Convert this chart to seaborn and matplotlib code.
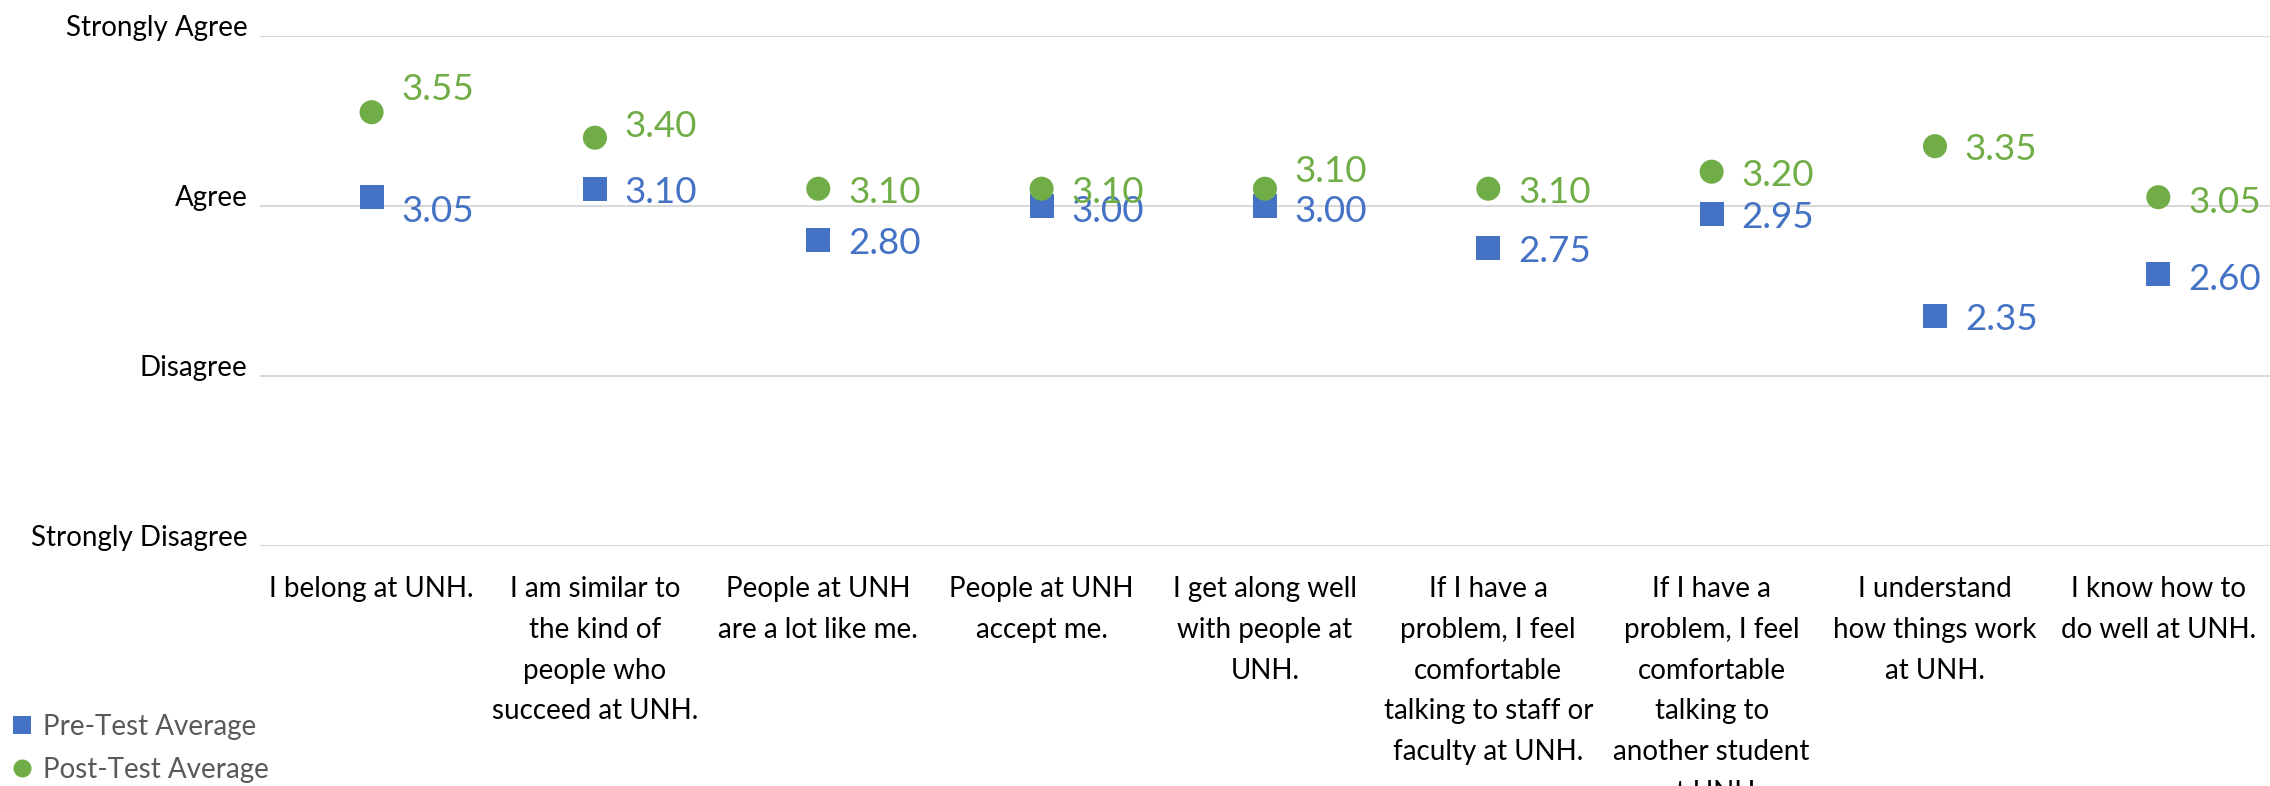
import matplotlib
matplotlib.use("Agg")
import matplotlib.pyplot as plt
import pandas as pd
import seaborn as sns

questions = [
    "I belong at UNH.",
    "I am similar to\nthe kind of\npeople who\nsucceed at UNH.",
    "People at UNH\nare a lot like me.",
    "People at UNH\naccept me.",
    "I get along well\nwith people at\nUNH.",
    "If I have a\nproblem, I feel\ncomfortable\ntalking to staff or\nfaculty at UNH.",
    "If I have a\nproblem, I feel\ncomfortable\ntalking to\nanother student\nat UNH.",
    "I understand\nhow things work\nat UNH.",
    "I know how to\ndo well at UNH.",
]
pre_avg = [3.05, 3.10, 2.80, 3.00, 3.00, 2.75, 2.95, 2.35, 2.60]
post_avg = [3.55, 3.40, 3.10, 3.10, 3.10, 3.10, 3.20, 3.35, 3.05]
series_names = ["Pre-Test Average", "Post-Test Average"]
scale_ticks = [1, 2, 3, 4]
scale_labels = ["Strongly Disagree", "Disagree", "Agree", "Strongly Agree"]

# data label nudges in points (up is positive), like the hand-moved excel labels
pre_nudge = [-7.5, 0, 0, -1.5, -1.5, 0, 0, 0, -2]
post_nudge = [18.5, 10.5, 0, 0, 15, 0, 0, 0, -1.5]

colors = {"Pre-Test Average": "#4472C4", "Post-Test Average": "#70AD47"}

df = pd.DataFrame({
    "question": questions * 2,
    "score": pre_avg + post_avg,
    "test": [series_names[0]] * len(questions) + [series_names[1]] * len(questions),
})

sns.set_theme(style="white")
plt.rcParams["font.family"] = ["Lato", "DejaVu Sans"]

fig, ax = plt.subplots(figsize=(22.7, 7.86), dpi=100)
fig.subplots_adjust(left=0.1145, right=1.0, top=0.9546, bottom=0.3057)

sns.scatterplot(data=df, x="question", y="score", hue="test", style="test",
                markers={"Pre-Test Average": "s", "Post-Test Average": "o"},
                palette=colors, s=300, linewidth=0, ax=ax, zorder=3)

ax.set_xlim(-0.5, len(questions) - 0.5)
ax.set_ylim(1, 4)
ax.set_yticks(scale_ticks, scale_labels)
ax.yaxis.grid(True, color="#D9D9D9", lw=1.5)
ax.xaxis.grid(False)
sns.despine(ax=ax, left=True, bottom=True)
ax.tick_params(axis="y", length=0, pad=9, labelsize=20, labelcolor="black")
ax.tick_params(axis="x", length=0, pad=22, labelsize=20, labelcolor="black")
plt.setp(ax.get_yticklabels(), va="baseline")
plt.setp(ax.get_xticklabels(), linespacing=1.7)
ax.set_xlabel("")
ax.set_ylabel("")

for series, vals, nudge in [(series_names[0], pre_avg, pre_nudge),
                            (series_names[1], post_avg, post_nudge)]:
    for i, (v, dy) in enumerate(zip(vals, nudge)):
        ax.annotate(f"{v:.2f}", (i, v), xytext=(21.5, dy - 2.5),
                    textcoords="offset points", ha="left", va="center",
                    fontsize=26.5, color=colors[series], zorder=4)

old = ax.get_legend()
handles, labels = old.legend_handles, [t.get_text() for t in old.get_texts()]
old.remove()
fig.legend(handles, labels, loc="upper left", bbox_to_anchor=(0.0055, 0.092),
           frameon=False, fontsize=20, labelcolor="#595959", markerscale=0.75,
           borderpad=0, borderaxespad=0, handlelength=0.65, handletextpad=0.45,
           labelspacing=0.62)

fig.savefig("out.png", dpi=100)
